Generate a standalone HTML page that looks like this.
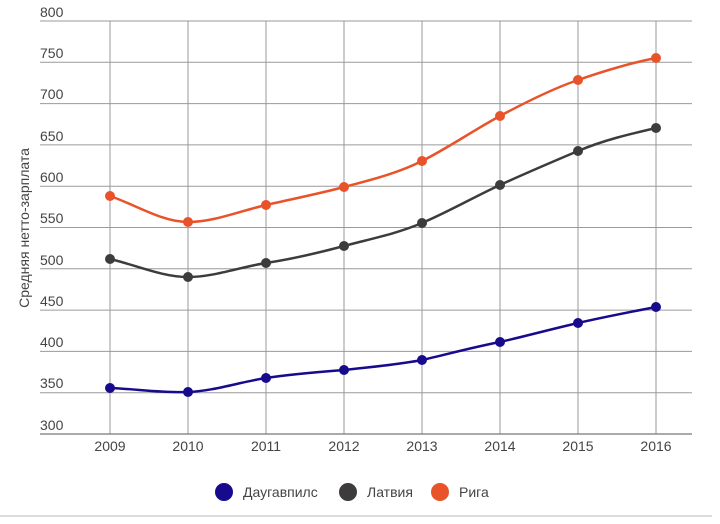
<!DOCTYPE html>
<html><head><meta charset="utf-8"><style>
body{margin:0;background:#fff;width:720px;height:520px;overflow:hidden;font-family:"Roboto","Liberation Sans",sans-serif}
</style></head><body>
<svg width="720" height="520" xmlns="http://www.w3.org/2000/svg" font-family="Liberation Sans, sans-serif">
<g stroke="#9a9a9a" stroke-width="1">
<line x1="40" y1="21" x2="692" y2="21"/><line x1="40" y1="62.3" x2="692" y2="62.3"/><line x1="40" y1="103.6" x2="692" y2="103.6"/><line x1="40" y1="144.9" x2="692" y2="144.9"/><line x1="40" y1="186.2" x2="692" y2="186.2"/><line x1="40" y1="227.5" x2="692" y2="227.5"/><line x1="40" y1="268.8" x2="692" y2="268.8"/><line x1="40" y1="310.1" x2="692" y2="310.1"/><line x1="40" y1="351.4" x2="692" y2="351.4"/><line x1="40" y1="392.7" x2="692" y2="392.7"/>
<line x1="110" y1="21" x2="110" y2="434"/><line x1="188" y1="21" x2="188" y2="434"/><line x1="266" y1="21" x2="266" y2="434"/><line x1="344" y1="21" x2="344" y2="434"/><line x1="422" y1="21" x2="422" y2="434"/><line x1="500" y1="21" x2="500" y2="434"/><line x1="578" y1="21" x2="578" y2="434"/><line x1="656" y1="21" x2="656" y2="434"/>
</g>
<line x1="40" y1="434" x2="692" y2="434" stroke="#777" stroke-width="1.3"/>
<g font-size="14" fill="#444">
<text x="40" y="17">800</text><text x="40" y="58">750</text><text x="40" y="99">700</text><text x="40" y="141">650</text><text x="40" y="182">600</text><text x="40" y="223">550</text><text x="40" y="265">500</text><text x="40" y="306">450</text><text x="40" y="347">400</text><text x="40" y="388">350</text><text x="40" y="430">300</text>
</g>
<g font-size="14" fill="#444" text-anchor="middle">
<text x="110" y="451">2009</text><text x="188" y="451">2010</text><text x="266" y="451">2011</text><text x="344" y="451">2012</text><text x="422" y="451">2013</text><text x="500" y="451">2014</text><text x="578" y="451">2015</text><text x="656" y="451">2016</text>
</g>
<text transform="translate(29,228) rotate(-90)" font-size="14" fill="#444" text-anchor="middle">Средняя нетто-зарплата</text>
<g fill="none" stroke-width="2.5">
<path id="r" stroke="#e8532a" d="M110,196 C136,205 162,222 188,222 C214,222 240,211 266,205 C292,199 318,194 344,187 C370,180 396,174 422,161 C448,148 474,130 500,116 C526,102 552,89 578,80 C604,71 630,63 656,58"/>
<path stroke="#3d3b3b" d="M110,259 C136,265 162,277 188,277 C214,277 240,267 266,263 C292,259 318,253 344,246 C370,239 396,234 422,223 C448,212 474,197 500,185 C526,173 552,162 578,151 C604,140 630,134 656,128"/>
<path stroke="#170a8c" d="M110,388 C136,389 162,393 188,392 C214,391 240,382 266,378 C292,374 318,372 344,370 C370,367 396,365 422,360 C448,354 474,347 500,342 C526,336 552,329 578,323 C604,317 630,312 656,307"/>
</g>
<g fill="#e8532a"><circle cx="110" cy="196" r="5"/><circle cx="188" cy="222" r="5"/><circle cx="266" cy="205" r="5"/><circle cx="344" cy="187" r="5"/><circle cx="422" cy="161" r="5"/><circle cx="500" cy="116" r="5"/><circle cx="578" cy="80" r="5"/><circle cx="656" cy="58" r="5"/></g>
<g fill="#3d3b3b"><circle cx="110" cy="259" r="5"/><circle cx="188" cy="277" r="5"/><circle cx="266" cy="263" r="5"/><circle cx="344" cy="246" r="5"/><circle cx="422" cy="223" r="5"/><circle cx="500" cy="185" r="5"/><circle cx="578" cy="151" r="5"/><circle cx="656" cy="128" r="5"/></g>
<g fill="#170a8c"><circle cx="110" cy="388" r="5"/><circle cx="188" cy="392" r="5"/><circle cx="266" cy="378" r="5"/><circle cx="344" cy="370" r="5"/><circle cx="422" cy="360" r="5"/><circle cx="500" cy="342" r="5"/><circle cx="578" cy="323" r="5"/><circle cx="656" cy="307" r="5"/></g>
<circle cx="224" cy="492" r="9" fill="#170a8c"/><text x="243" y="497" font-size="14" fill="#444">Даугавпилс</text>
<circle cx="348" cy="492" r="9" fill="#3d3b3b"/><text x="367" y="497" font-size="14" fill="#444">Латвия</text>
<circle cx="440" cy="492" r="9" fill="#e8532a"/><text x="459" y="497" font-size="14" fill="#444">Рига</text>
<line x1="0" y1="516" x2="712" y2="516" stroke="#ddd" stroke-width="2"/>
</svg>
</body></html>
